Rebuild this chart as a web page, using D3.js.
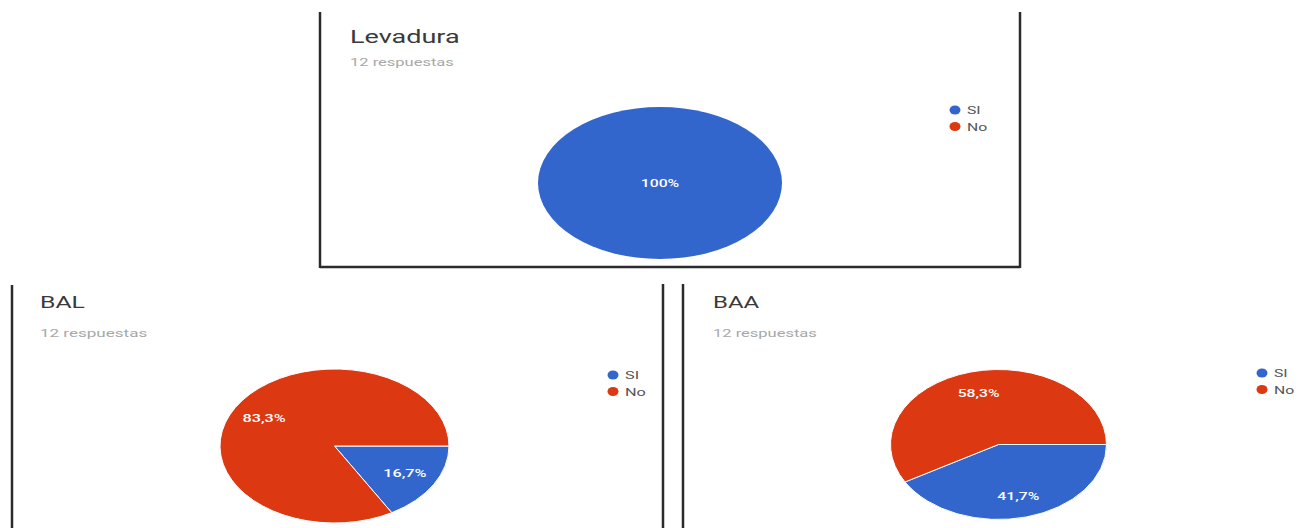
<!DOCTYPE html>
<html>
<head>
<meta charset="utf-8">
<script src="https://cdn.jsdelivr.net/npm/d3@7"></script>
<style>
  html, body { margin: 0; padding: 0; background: #fff; }
  svg { display: block; }
  text { font-family: Roboto, "Noto Sans", sans-serif; }
</style>
</head>
<body>
<svg id="chart" width="1299" height="528"></svg>
<script>
// ---- data ----
const titles = ["Levadura", "BAL", "BAA"];
const subtitles = ["12 respuestas", "12 respuestas", "12 respuestas"];
const categories = ["SI", "No"];
const levaduraValues = [12, 0];
const balValues = [2, 10];
const baaValues = [5, 7];
const colors = ["#3366cc", "#dc3912"];

// ---- layout (positions / styles only) ----
const layout = [
  { values: levaduraValues, cx: 660, cy: 183, rx: 122, ry: 76, sx: 1.5,
    titleX: 350, titleY: 43, titleSize: 18, subY: 66,
    legX: 955, legY: 110,
    lines: [[320, 12, 320, 268], [320, 267, 1020, 267], [1020, 12, 1020, 268]] },
  { values: balValues, cx: 334.5, cy: 446, rx: 114.5, ry: 77, sx: 1.55,
    titleX: 40, titleY: 308, titleSize: 16, subY: 337,
    legX: 613, legY: 375,
    lines: [[12, 285, 12, 528], [663, 284, 663, 528]] },
  { values: baaValues, cx: 998.5, cy: 444.5, rx: 108, ry: 75, sx: 1.5,
    titleX: 713, titleY: 308, titleSize: 16, subY: 337,
    legX: 1262, legY: 373,
    lines: [[683, 284, 683, 528]] }
];

const svg = d3.select("#chart");
const R = 100;
const pie = d3.pie().sort(null)
  .startAngle(Math.PI / 2).endAngle(Math.PI / 2 + 2 * Math.PI);
const arc = d3.arc().innerRadius(0).outerRadius(R);
const labelArc = d3.arc().innerRadius(R * 0.71).outerRadius(R * 0.71);
const fmt = d3.formatLocale({ decimal: ",", thousands: ".", grouping: [3], currency: ["", "€"] });
const pctFmt = v => (Math.abs(v - 100) < 1e-9 ? "100%" : fmt.format(".1f")(v) + "%");

layout.forEach((p, i) => {
  const g = svg.append("g");

  // panel borders
  p.lines.forEach(l => {
    g.append("line")
      .attr("x1", l[0]).attr("y1", l[1]).attr("x2", l[2]).attr("y2", l[3])
      .attr("stroke", "#2b2b2b").attr("stroke-width", 2.5);
  });

  // title
  g.append("text")
    .attr("transform", `translate(${p.titleX},${p.titleY}) scale(${p.sx},1)`)
    .attr("font-size", p.titleSize)
    .attr("fill", "#3a3a3a")
    .text(titles[i]);

  g.append("text")
    .attr("transform", `translate(${p.titleX},${p.subY}) scale(${p.sx},1)`)
    .attr("font-size", 11)
    .attr("fill", "#a8a8a8")
    .text(subtitles[i]);

  // pie (elliptical, like the stretched original)
  const total = d3.sum(p.values);
  const arcs = pie(p.values);
  const pg = g.append("g")
    .attr("transform", `translate(${p.cx},${p.cy}) scale(${p.rx / R},${p.ry / R})`);
  pg.selectAll("path")
    .data(arcs.filter(d => d.value > 0))
    .join("path")
    .attr("d", arc)
    .attr("fill", d => colors[d.index])
    .attr("stroke", arcs.filter(d => d.value > 0).length > 1 ? "#ffffff" : "none")
    .attr("stroke-width", 1)
    .attr("vector-effect", "non-scaling-stroke");

  // labels
  arcs.filter(d => d.value > 0).forEach(d => {
    const single = d.value === total;
    const c = single ? [0, 0] : labelArc.centroid(d);
    const x = p.cx + c[0] * p.rx / R;
    const y = p.cy + c[1] * p.ry / R;
    g.append("text")
      .attr("transform", `translate(${x},${y}) scale(${p.sx},1)`)
      .attr("text-anchor", "middle")
      .attr("dy", "0.35em")
      .attr("font-size", 10.5)
      .attr("font-weight", 500)
      .attr("fill", "#ffffff")
      .text(pctFmt(d.value / total * 100));
  });

  // legend
  categories.forEach((c, k) => {
    const ly = p.legY + k * 16.5;
    g.append("ellipse")
      .attr("cx", p.legX).attr("cy", ly)
      .attr("rx", 5.5).attr("ry", 4.5)
      .attr("fill", colors[k]);
    g.append("text")
      .attr("transform", `translate(${p.legX + 12},${ly + 4}) scale(${p.sx},1)`)
      .attr("font-size", 10.5)
      .attr("fill", "#555")
      .text(c);
  });
});
</script>
</body>
</html>
